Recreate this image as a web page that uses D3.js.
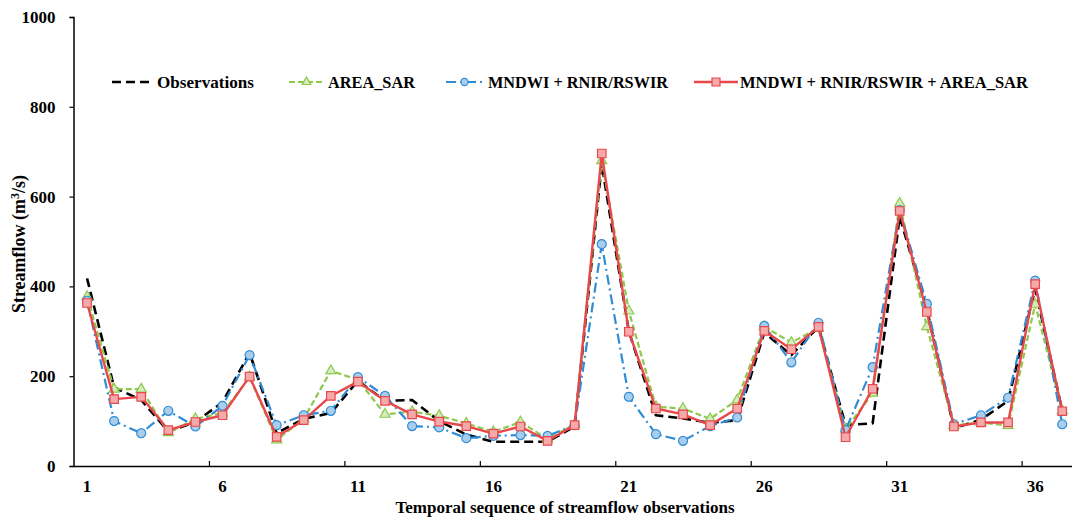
<!DOCTYPE html>
<html><head><meta charset="utf-8">
<script src="https://cdn.jsdelivr.net/npm/d3@7"></script>
<style>
html,body{margin:0;padding:0;background:#fff;}
svg text{font-family:"Liberation Serif","Times New Roman",serif;font-weight:bold;fill:#000;}
</style></head>
<body><svg id="c" width="1072" height="521"></svg>
<script>
const categories = d3.range(1, 38);
const tickLabels = [1, 6, 11, 16, 21, 26, 31, 36];
const yTicks = [0, 200, 400, 600, 800, 1000];
const observations = [418,175,147,77,98,142,252,73,105,118,190,145,147,100,70,54,54,54,88,672,300,113,106,96,102,297,247,310,91,95,555,350,84,103,145,395,123];
const areaSar = [377,171,171,74,105,118,198,58,105,212,192,115,121,112,95,76,98,60,93,680,345,132,128,105,147,310,275,307,82,162,585,310,90,97,90,360,123];
const mndwi = [368,100,73,123,88,134,247,91,113,123,198,156,89,86,62,67,69,67,91,494,154,71,56,89,108,312,231,319,80,220,570,361,93,113,152,413,93];
const combined = [363,149,154,80,98,113,199,65,102,156,188,145,115,99,89,72,88,56,91,696,299,128,115,91,128,301,260,310,64,172,568,343,88,97,97,405,122];
const seriesNames = ["Observations", "AREA_SAR", "MNDWI + RNIR/RSWIR", "MNDWI + RNIR/RSWIR + AREA_SAR"];

const svg = d3.select("#c");
const x = d3.scaleLinear().domain([0.5, 37.5]).range([73.5, 1075.8]);
const y = d3.scaleLinear().domain([0, 1000]).range([466, 17]);

// axes
const yAxis = d3.axisLeft(y).tickValues(yTicks).tickSize(4).tickPadding(14).tickFormat(d3.format("d"));
const gy = svg.append("g").attr("transform", `translate(${x(0.5)},0)`).call(yAxis);
gy.select(".domain").attr("stroke", "#000").attr("stroke-width", 1.5);
gy.selectAll(".tick line").attr("stroke", "#000").attr("stroke-width", 1.2);
gy.selectAll(".tick text").style("font-size", "17px");

const xAxis = d3.axisBottom(x).tickValues(d3.range(5.5, 37, 5)).tickSizeInner(-5).tickSizeOuter(0).tickFormat("");
const gx = svg.append("g").attr("transform", `translate(0,${y(0)})`).call(xAxis);
gx.select(".domain").attr("stroke", "#000").attr("stroke-width", 1.5);
gx.selectAll(".tick line").attr("stroke", "#000").attr("stroke-width", 1.2);
svg.append("g").selectAll("text").data(tickLabels).join("text")
  .attr("x", d => x(d)).attr("y", 492).attr("text-anchor", "middle")
  .style("font-size", "17px").text(d => d);

svg.append("text").attr("x", 565).attr("y", 513).attr("text-anchor", "middle")
  .style("font-size", "17px").text("Temporal sequence of streamflow observations");
const yt = svg.append("text").attr("transform", "translate(25,244) rotate(-90)").attr("text-anchor", "middle").style("font-size", "18px");
yt.append("tspan").text("Streamflow (m");
yt.append("tspan").attr("dy", -6).style("font-size", "12px").text("3");
yt.append("tspan").attr("dy", 6).text("/s)");

const styles = [
  {data: observations, color: "#000000", dash: "9,5", width: 2.6, marker: null},
  {data: areaSar, color: "#8DC94A", dash: "6,3", width: 2.2, marker: "triangle", fill: "#D6EBC0"},
  {data: mndwi, color: "#2F8DD6", dash: "10,4,2,4", width: 2.2, marker: "circle", fill: "#A9CDEB"},
  {data: combined, color: "#E8484C", dash: null, width: 2.4, marker: "square", fill: "#F4AAAA"}
];
const symOf = m => m === "triangle" ? d3.symbolTriangle : m === "circle" ? d3.symbolCircle : d3.symbolSquare;
const line = d3.line().x((d, i) => x(categories[i])).y(d => y(d));
styles.forEach(s => {
  svg.append("path").datum(s.data).attr("d", line).attr("fill", "none")
    .attr("stroke", s.color).attr("stroke-width", s.width)
    .attr("stroke-dasharray", s.dash).attr("stroke-linejoin", "round");
  if (s.marker) {
    const size = s.marker === "square" ? 72 : s.marker === "circle" ? 64 : 44;
    svg.append("g").selectAll("path").data(s.data).join("path")
      .attr("transform", (d, i) => `translate(${x(categories[i])},${y(d)})`)
      .attr("d", d3.symbol(symOf(s.marker), size)).attr("fill", s.fill).attr("stroke", s.color).attr("stroke-width", 1.2);
  }
});

// legend
const legendItems = [
  {x0: 112, x1: 151, tx: 157, w: 97},
  {x0: 289, x1: 324, tx: 328, w: 87},
  {x0: 446, x1: 483, tx: 488, w: 180},
  {x0: 694, x1: 738, tx: 740, w: 288}
];
const lg = svg.append("g");
legendItems.forEach((L, k) => {
  const s = styles[k];
  lg.append("line").attr("x1", L.x0).attr("x2", L.x1).attr("y1", 82).attr("y2", 82)
    .attr("stroke", s.color).attr("stroke-width", s.width).attr("stroke-dasharray", s.dash);
  if (s.marker) {
    const size = s.marker === "square" ? 64 : s.marker === "circle" ? 40 : 32;
    lg.append("path").attr("transform", `translate(${(L.x0 + L.x1) / 2},82)`)
      .attr("d", d3.symbol(symOf(s.marker), size)).attr("fill", s.fill).attr("stroke", s.color).attr("stroke-width", 1.2);
  }
  lg.append("text").attr("x", L.tx).attr("y", 88).style("font-size", "17px")
    .attr("textLength", L.w).attr("lengthAdjust", "spacingAndGlyphs").text(seriesNames[k]);
});
</script></body></html>
